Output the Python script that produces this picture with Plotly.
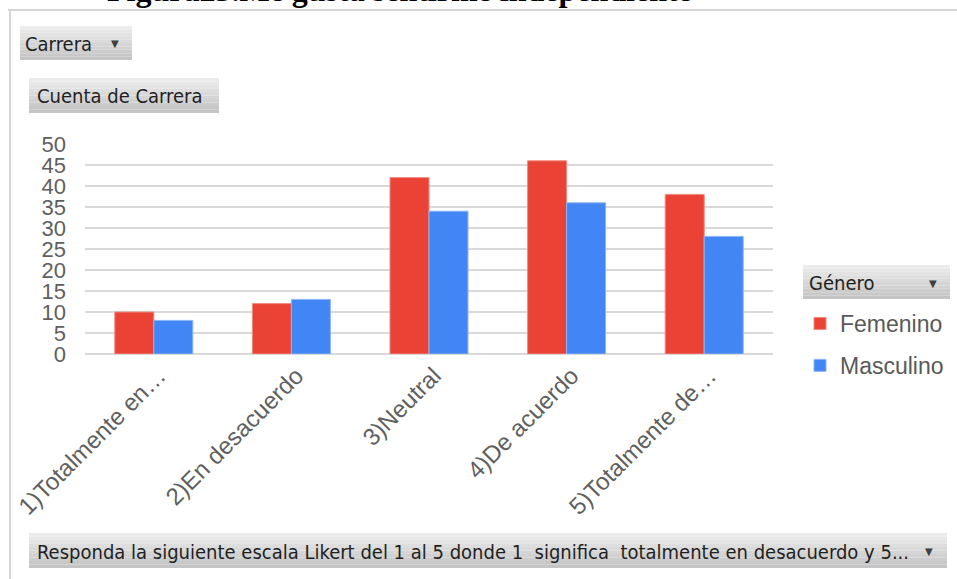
import plotly.graph_objects as go

categories = ["1)Totalmente en…", "2)En desacuerdo", "3)Neutral", "4)De acuerdo", "5)Totalmente de…"]
femenino = [10, 12, 42, 46, 38]
masculino = [8, 13, 34, 36, 28]
y_ticks = [0, 5, 10, 15, 20, 25, 30, 35, 40, 45, 50]

W, H = 957, 579
L, R, T, B = 85, 773, 144, 354  # plot area in pixels

BTN_FONT = "DejaVu Sans Condensed, Roboto, sans-serif"


def px(x):
    return (x - L) / (R - L)


def py(y):
    return (B - y) / (B - T)


fig = go.Figure()
fig.add_trace(go.Bar(x=categories, y=femenino, name="Femenino",
                     marker=dict(color="#EA4335", line=dict(color="#F08A80", width=1)),
                     legendgroup="f"))
fig.add_trace(go.Bar(x=categories, y=masculino, name="Masculino",
                     marker=dict(color="#4285F4", line=dict(color="#8DB5F8", width=1)),
                     legendgroup="m"))

shapes = []
annotations = []

# outer frame lines
shapes.append(dict(type="line", xref="paper", yref="paper", x0=px(8), x1=px(957), y0=py(10), y1=py(10),
                   line=dict(color="#D6D6D6", width=2)))
shapes.append(dict(type="line", xref="paper", yref="paper", x0=px(10), x1=px(10), y0=py(10), y1=py(579),
                   line=dict(color="#D6D6D6", width=2)))


def button(x0, y0, x1, y1, text, tx, size, arrow_x=None):
    n = 10
    top = (236, 236, 236)
    bot = (196, 196, 196)
    for i in range(n):
        t = i / (n - 1)
        c = tuple(int(top[k] + (bot[k] - top[k]) * t) for k in range(3))
        ya = y0 + (y1 - y0) * i / n
        yb = y0 + (y1 - y0) * (i + 1) / n
        shapes.append(dict(type="rect", xref="paper", yref="paper",
                           x0=px(x0), x1=px(x1), y0=py(ya), y1=py(yb),
                           fillcolor="rgb(%d,%d,%d)" % c, line=dict(width=0), layer="above"))
    annotations.append(dict(xref="paper", yref="paper", x=px(tx), y=py((y0 + y1) / 2 + 1),
                            xanchor="left", yanchor="middle", showarrow=False, text=text,
                            font=dict(family=BTN_FONT, size=size, color="#1F1F1F")))
    if arrow_x is not None:
        annotations.append(dict(xref="paper", yref="paper", x=px(arrow_x), y=py((y0 + y1) / 2 + 1),
                                xanchor="center", yanchor="middle", showarrow=False, text="▼",
                                font=dict(family="DejaVu Sans", size=10, color="#404040")))


button(20, 26, 132, 60, "Carrera", 23, 20, 115)
button(29, 78, 219, 113, "Cuenta de Carrera", 35, 20)
button(803, 265, 950, 299, "Género", 807, 20, 933)
button(29, 533, 947, 568,
       "Responda la siguiente escala Likert del 1 al 5 donde 1\u00a0\u00a0significa\u00a0\u00a0totalmente en desacuerdo y 5...",
       35, 20, 929)

# title (cut off at top)
annotations.append(dict(xref="paper", yref="paper", x=px(399), y=py(10), xanchor="center", yanchor="bottom",
                        showarrow=False, text="<b>Figura25.Me gusta sentirme independiente</b>",
                        font=dict(family="Liberation Serif", size=32, color="#000000")))

fig.update_layout(
    width=W, height=H,
    margin=dict(l=L, r=W - R, t=T, b=H - B, pad=0, autoexpand=False),
    paper_bgcolor="white", plot_bgcolor="white",
    barmode="group", bargap=0.433, bargroupgap=0,
    font=dict(family="Liberation Sans", color="#5F5F5F"),
    showlegend=True,
    legend=dict(x=px(800), y=py(302), xanchor="left", yanchor="top",
                font=dict(family="Liberation Sans", size=23, color="#595959"),
                tracegroupgap=9, itemwidth=30, bgcolor="rgba(0,0,0,0)"),
    shapes=shapes, annotations=annotations,
)
fig.update_yaxes(range=[0, 50], tickvals=y_ticks, showgrid=True, gridcolor="#D9D9D9", gridwidth=2,
                 zeroline=True, zerolinecolor="#D9D9D9", zerolinewidth=2, showline=False,
                 tickfont=dict(family="Liberation Sans", size=22, color="#5F5F5F"),
                 ticklabelstandoff=18, fixedrange=True, automargin=False)
fig.update_xaxes(tickangle=-45, showgrid=False, showline=False, ticks="",
                 tickfont=dict(family="Liberation Sans", size=24, color="#5F5F5F"),
                 ticklabelstandoff=2, ticklabelshift=5, fixedrange=True, automargin=False)

fig.write_html("out.html", config={"displayModeBar": False},
               post_script="document.body.style.margin='0px';")
